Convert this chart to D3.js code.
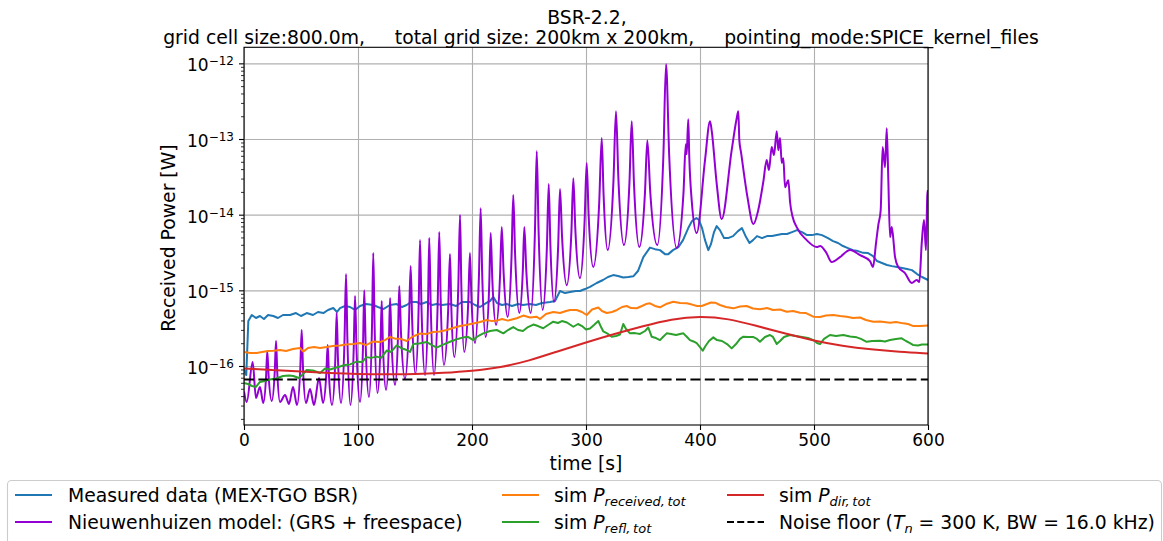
<!DOCTYPE html>
<html><head><meta charset="utf-8">
<script src="https://cdn.jsdelivr.net/npm/d3@7"></script>
<style>
body{margin:0;background:#fff;}
svg{display:block;font-family:"DejaVu Sans",sans-serif;}
</style></head><body>
<svg id="chart" width="1163" height="541"></svg>
<script>
// ---- data ----
const xTicks = [0, 100, 200, 300, 400, 500, 600];
const yDecades = [-16, -15, -14, -13, -12];
const noiseTemp = 300;      // K
const noiseBW = 16.0e3;     // Hz
const boltzmann = 1.380649e-23;

// measured received power (MEX-TGO BSR), [time s, power W]
const measured = [
 [0,8.85e-17],[2.0,7.6e-17],[3.8,3.93e-16],[6.8,4.72e-16],[10.5,4.31e-16],[14.0,4.58e-16],[17.5,4.18e-16],
 [21.1,4.72e-16],[25.7,4.58e-16],[29.8,4.31e-16],[34.2,4.72e-16],[40.4,4.72e-16],[45.6,5.01e-16],[50.0,4.58e-16],
 [55.0,5.01e-16],[60.5,4.72e-16],[64.9,5.17e-16],[69.6,5.01e-16],[73.7,5.5e-16],[78.3,5.83e-16],[81.6,5.17e-16],
 [84.2,5.83e-16],[88.6,6.21e-16],[93.0,6.02e-16],[97.4,5.5e-16],[101.8,6.21e-16],[107.0,6.59e-16],[113.4,6.4e-16],
 [117.5,6.02e-16],[122.2,5.66e-16],[128.1,6.4e-16],[133.9,6.59e-16],[138.6,6.02e-16],[142.7,6.4e-16],[146.5,7.01e-16],
 [151.5,7.01e-16],[155.3,6.59e-16],[160.3,7.01e-16],[164.9,6.4e-16],[169.0,6.59e-16],[173.7,6.4e-16],[180.7,6.59e-16],
 [186.0,6.21e-16],[191.2,7.01e-16],[198.2,7.01e-16],[202.6,6.4e-16],[207.0,6.02e-16],[212.3,6.79e-16],[215.8,7.23e-16],
 [218.7,8.17e-16],[221.9,6.79e-16],[226.3,6.4e-16],[230.4,6.59e-16],[235.1,6.21e-16],[240.4,6.59e-16],[244.7,6.4e-16],
 [250.9,6.59e-16],[256.1,6.4e-16],[261.4,6.79e-16],[268.4,7.01e-16],[272.8,7.23e-16],[277.2,9.8e-16],[281.6,9.2e-16],
 [286.0,9.5e-16],[291.2,9.8e-16],[294.7,9.8e-16],[299.1,1.04e-15],[303.5,1.11e-15],[309.4,1.25e-15],[314.9,1.37e-15],
 [319.3,1.5e-15],[323.9,1.59e-15],[328.1,1.55e-15],[332.7,1.48e-15],[337.1,1.5e-15],[341.5,1.53e-15],[345.6,1.8e-15],
 [350.3,2.75e-15],[356.1,3.67e-15],[360.5,3.5e-15],[364.9,3.4e-15],[369.3,3.01e-15],[372.2,3.01e-15],[376.3,3.4e-15],
 [381.0,3.73e-15],[385.1,4.61e-15],[389.7,6.65e-15],[393.0,8.24e-15],[396.8,9.02e-15],[399.1,8.49e-15],[401.8,6.65e-15],
 [404.4,4.61e-15],[407.3,3.4e-15],[409.6,4.08e-15],[412.3,5.89e-15],[414.6,7.06e-15],[417.5,6.25e-15],[421.1,4.9e-15],
 [424.6,4.9e-15],[429.0,5.21e-15],[433.3,6.07e-15],[436.8,6.65e-15],[440.4,5.06e-15],[443.4,4.22e-15],[446.5,4.61e-15],
 [450.0,5.21e-15],[454.4,4.9e-15],[458.8,5.21e-15],[463.2,5.21e-15],[467.5,5.37e-15],[471.9,5.55e-15],[476.3,5.55e-15],
 [480.7,5.89e-15],[485.1,6.25e-15],[489.5,5.89e-15],[493.9,5.37e-15],[498.2,5.37e-15],[502.6,5.55e-15],[507.0,5.37e-15],
 [512.3,4.9e-15],[516.7,4.48e-15],[521.1,4.22e-15],[525.4,3.85e-15],[529.8,3.62e-15],[534.2,3.4e-15],[538.6,3.3e-15],
 [543.0,3.13e-15],[547.4,3.11e-15],[551.8,2.84e-15],[555.3,2.44e-15],[559.6,2.3e-15],[564.0,2.16e-15],[568.4,2.09e-15],
 [572.8,2.03e-15],[577.2,1.97e-15],[581.6,1.91e-15],[585.9,1.85e-15],[590.4,1.64e-15],[594.7,1.5e-15],[600,1.37e-15]
];

// Nieuwenhuizen model (GRS + freespace), [time s, power W]
const nieuwenhuizen = [
 [0,4.6e-17],[2.4,3.34e-17],[7.6,1.13e-16],[10.5,3.78e-17],[14.0,5.28e-17],[16.9,3.24e-17],
 [19.35,7.15e-17],[20.4,1.58e-16],[21.6,7.38e-17],[24.3,3.45e-17],
 [27.0,8.59e-17],[28.1,2.14e-16],[29.15,8.45e-17],[31.6,3.34e-17],[36.0,4.14e-17],[39.5,3.15e-17],
 [43.0,5.28e-17],[46.5,3.05e-17],[49.4,9.55e-17],[50.6,2.99e-16],[51.7,9.84e-17],[54.4,3.24e-17],
 [57.9,4.97e-17],[61.4,3.05e-17],[65.8,6.94e-17],[69.3,3.24e-17],
 [72.2,7.83e-17],[73.4,1.89e-16],[74.5,7.6e-17],[77.2,3.05e-17],
 [80.1,1.24e-16],[81.3,5.01e-16],[82.4,1.27e-16],[85.1,3.24e-17],
 [88.2,2.31e-16],[89.5,1.64e-15],[90.7,2.24e-16],[93.4,3.05e-17],
 [96.2,1.6e-16],[97.4,8.41e-16],[98.7,1.67e-16],[101.8,3.34e-17],
 [104.4,1.84e-16],[105.5,1.0e-15],[106.7,1.95e-16],[109.6,3.89e-17],
 [112.3,3.43e-16],[113.4,3.11e-15],[114.5,3.7e-16],[117.1,4.39e-17],
 [119.7,1.78e-16],[120.8,7.23e-16],[121.9,1.87e-16],[124.6,4.82e-17],
 [127.1,1.95e-16],[128.1,7.91e-16],[129.4,2.1e-16],[132.5,5.61e-17],
 [135.1,2.53e-16],[136.2,1.14e-15],[137.7,2.77e-16],[141.2,6.73e-17],
 [144.7,3.75e-16],[146.2,2.09e-15],[147.5,4.05e-16],[150.4,7.83e-17],
 [153.2,6.01e-16],[154.4,4.61e-15],[155.7,5.92e-16],[158.8,7.6e-17],
 [161.4,6.11e-16],[162.5,4.91e-15],[163.8,6.11e-16],[166.7,7.6e-17],
 [169.9,6.68e-16],[171.3,5.89e-15],[172.5,7.78e-16],[175.4,1.03e-16],
 [179.1,5.57e-16],[180.7,3.02e-15],[181.8,6.31e-16],[184.5,1.31e-16],
 [188.0,1.14e-15],[189.5,9.9e-15],[190.6,1.23e-15],[193.2,1.53e-16],
 [196.7,6.9e-16],[198.2,3.11e-15],[199.5,7.94e-16],[202.6,2.01e-16],
 [206.1,1.57e-15],[207.6,1.22e-14],[208.9,1.72e-15],[212.0,2.42e-16],
 [215.1,1.17e-15],[216.4,5.71e-15],[217.8,1.41e-15],[221.1,3.48e-16],
 [224.6,1.55e-15],[226.1,6.86e-15],[227.7,1.74e-15],[231.3,4.44e-16],
 [234.7,2.84e-15],[236.2,1.82e-14],[237.8,3.02e-15],[241.5,5.01e-16],
 [244.6,1.85e-15],[245.9,6.86e-15],[247.6,1.85e-15],[251.5,5.01e-16],
 [255.2,5.89e-15],[256.8,6.92e-14],[258.4,6.17e-15],[262.0,5.5e-16],
 [265.7,3.73e-15],[267.3,2.54e-14],[268.7,4.22e-15],[271.9,7.01e-16],
 [275.6,3.91e-15],[277.2,2.18e-14],[279.0,5.06e-15],[283.1,1.17e-15],
 [287.2,5.97e-15],[288.9,3.04e-14],[290.6,6.64e-15],[294.7,1.45e-15],
 [298.8,8.36e-15],[300.6,4.81e-14],[302.3,9.89e-15],[306.4,2.03e-15],
 [311.6,1.45e-14],[313.8,1.03e-13],[315.4,1.87e-14],[319.0,3.4e-15],
 [324.1,2.82e-14],[326.3,2.33e-13],[328.4,3.04e-14],[333.3,3.96e-15],
 [338.1,2.61e-14],[340.1,1.72e-13],[342.1,2.54e-14],[346.8,3.73e-15],
 [351.7,1.91e-14],[353.8,9.66e-14],[356.4,1.95e-14],[362.5,3.96e-15],
 [367.9,6.21e-14],[370.2,9.75e-13],[373.0,5.94e-14],[379.6,3.62e-15],
 [385.5,1.93e-14],[387.5,8.55e-14],[388.3,6.31e-14],[389.7,1.83e-13],[390.6,5.77e-14],[392.7,1.56e-14],
 [397.1,5.71e-15],[404.4,5.26e-14],[408.8,1.72e-13],[410.3,1.27e-13],[414.6,2.62e-14],[419.0,8.75e-15],
 [427.8,7.13e-14],[432.2,1.88e-13],[433.6,2.33e-13],[434.5,9.66e-14],[436.1,6.5e-14],[441.6,1.72e-14],
 [446.8,7.52e-15],[451.1,1.15e-14],[455.5,2.7e-14],[458.5,5.26e-14],[460.5,3.88e-14],[462.9,7.82e-14],
 [464.9,6.12e-14],[467.3,1.27e-13],[468.7,7.13e-14],[470.2,1.03e-13],[471.7,4.81e-14],[473.1,5.58e-14],
 [474.6,2.31e-14],[477.5,2.86e-14],[479.0,1.47e-14],[481.3,9.31e-15],[484.8,6.86e-15],[493.6,4.61e-15],
 [502.4,3.73e-15],[505.3,3.85e-15],[510.5,3.2e-15],[515.5,2.37e-15],[522.8,2.75e-15],[531.6,3.4e-15],
 [540.4,2.92e-15],[549.1,2.44e-15],[551.8,2.03e-15],[554.4,4.21e-15],[556.4,7.28e-15],[558.5,1.15e-14],
 [560.2,7.82e-14],[562.3,4.25e-14],[563.8,1.39e-13],[565.2,2.86e-14],[566.7,5.06e-15],[568.2,6.86e-15],
 [571.1,2.75e-15],[574.0,2.03e-15],[579.8,1.69e-15],[585.7,1.25e-15],[590.1,1.37e-15],[592.4,1.29e-15],
 [594.5,4.21e-15],[596.5,8.49e-15],[598.2,3.4e-15],[599.4,1.82e-14],[600,2.11e-14]
];

// simulated total received power, [time s, power W]
const simReceived = [
 [0,1.53e-16],[5.3,1.49e-16],[11.1,1.49e-16],[15.8,1.53e-16],[21.1,1.58e-16],[25.7,1.59e-16],[31.6,1.63e-16],
 [36.8,1.58e-16],[43.0,1.68e-16],[49.1,1.73e-16],[52.0,1.55e-16],[56.1,1.73e-16],[61.4,1.78e-16],[66.7,1.73e-16],
 [72.5,1.78e-16],[78.1,1.84e-16],[84.2,1.87e-16],[89.5,1.92e-16],[95.9,1.95e-16],[101.8,2.01e-16],[107.0,1.89e-16],
 [113.4,2.11e-16],[119.3,2.07e-16],[123.7,2.2e-16],[128.1,2.42e-16],[132.5,2.3e-16],[136.8,2.3e-16],[142.7,2.14e-16],
 [147.4,2.42e-16],[154.4,2.69e-16],[159.6,2.64e-16],[166.1,2.81e-16],[171.9,2.85e-16],[177.8,2.99e-16],[183.3,3.18e-16],
 [189.5,3.37e-16],[194.7,3.48e-16],[201.1,3.64e-16],[207.0,3.81e-16],[212.9,4.05e-16],[217.5,3.92e-16],[221.7,3.98e-16],
 [226.3,4.18e-16],[231.6,3.98e-16],[239.2,4.27e-16],[245.0,4.64e-16],[250.9,4.37e-16],[256.8,4.48e-16],[259.6,4.18e-16],
 [264.9,4.86e-16],[271.3,5.17e-16],[277.2,5.01e-16],[282.5,5.33e-16],[286.0,5.5e-16],[291.8,5.5e-16],[296.5,5.17e-16],
 [300.6,4.72e-16],[305.3,5.58e-16],[310.8,5.93e-16],[314.0,5.33e-16],[318.2,5.01e-16],[322.8,5.17e-16],[327.2,5.5e-16],
 [331.6,6.02e-16],[335.7,6.21e-16],[339.5,5.83e-16],[344.5,5.8e-16],[349.1,6.21e-16],[352.6,6.59e-16],[356.1,6.73e-16],
 [360.5,6.21e-16],[364.9,5.96e-16],[370.2,6.59e-16],[376.6,7.06e-16],[382.5,6.79e-16],[388.3,6.73e-16],[393.0,6.48e-16],
 [397.4,6.21e-16],[401.5,6.21e-16],[406.1,6.59e-16],[409.6,6.9e-16],[413.2,6.86e-16],[417.5,6.4e-16],[422.8,6.02e-16],
 [429.2,5.78e-16],[435.1,6.11e-16],[440.9,6.21e-16],[446.5,5.75e-16],[452.6,5.61e-16],[458.8,5.83e-16],[464.0,5.5e-16],
 [470.2,5.58e-16],[476.1,5.21e-16],[481.6,5.33e-16],[487.7,5.06e-16],[493.0,5.01e-16],[499.4,4.48e-16],[505.3,4.44e-16],
 [510.5,4.64e-16],[516.9,4.72e-16],[522.8,4.58e-16],[528.7,4.48e-16],[534.2,4.31e-16],[540.4,4.37e-16],[545.6,4.05e-16],
 [552.0,3.85e-16],[557.9,3.87e-16],[566.7,3.73e-16],[571.9,3.81e-16],[578.3,3.66e-16],[582.5,3.59e-16],[587.1,3.37e-16],
 [593.0,3.37e-16],[600,3.42e-16]
];

// simulated total reflected power, [time s, power W]
const simReflected = [
 [0,5.96e-17],[3.5,5.78e-17],[7.0,5.44e-17],[10.5,5.28e-17],[14.0,6.15e-17],[18.4,6.33e-17],[22.8,6.64e-17],
 [28.1,6.84e-17],[34.2,7.38e-17],[39.5,7.5e-17],[43.2,7.38e-17],[48.2,6.94e-17],[51.8,7.83e-17],[55.0,8.85e-17],
 [60.5,8.72e-17],[66.7,8.09e-17],[71.1,9.27e-17],[75.4,8.99e-17],[79.8,9.42e-17],[84.2,9.84e-17],[88.6,1.03e-16],
 [93.0,1.05e-16],[98.9,1.14e-16],[103.5,1.13e-16],[107.6,1.31e-16],[111.4,1.28e-16],[116.4,1.33e-16],[120.2,1.28e-16],
 [125.2,1.6e-16],[128.9,1.53e-16],[133.9,1.87e-16],[137.7,1.73e-16],[142.7,1.63e-16],[145.6,1.53e-16],[148.5,1.95e-16],
 [153.5,1.98e-16],[160.3,2.07e-16],[164.9,1.89e-16],[169.0,1.75e-16],[173.7,1.89e-16],[180.7,2.09e-16],[186.0,2.24e-16],
 [192.4,2.39e-16],[196.5,2.42e-16],[201.1,2.2e-16],[205.3,2.49e-16],[209.9,2.7e-16],[215.8,2.9e-16],[221.7,2.99e-16],
 [227.5,2.7e-16],[231.6,2.99e-16],[236.2,3.27e-16],[240.4,2.99e-16],[244.7,2.9e-16],[249.1,3.27e-16],[253.8,3.53e-16],
 [257.9,3.37e-16],[262.5,3.15e-16],[266.7,3.48e-16],[271.3,3.85e-16],[275.4,3.7e-16],[278.9,3.93e-16],[283.3,3.76e-16],
 [288.9,3.3e-16],[293.0,3.59e-16],[296.5,3.37e-16],[300.0,3.03e-16],[303.5,3.13e-16],[307.0,3.48e-16],[310.8,3.93e-16],
 [313.2,3.27e-16],[315.2,2.86e-16],[319.3,2.65e-16],[322.5,2.44e-16],[326.3,2.49e-16],[329.8,2.61e-16],[332.7,3.59e-16],
 [335.1,3.08e-16],[338.6,2.7e-16],[343.0,2.72e-16],[347.4,2.65e-16],[351.8,2.9e-16],[354.6,3.23e-16],[357.6,2.44e-16],
 [361.4,2.34e-16],[364.9,2.2e-16],[367.5,2.42e-16],[370.8,2.7e-16],[374.6,2.65e-16],[379.0,2.57e-16],[382.5,2.65e-16],
 [385.4,2.7e-16],[388.6,2.42e-16],[391.2,2.2e-16],[394.3,2.11e-16],[397.1,2.0e-16],[400.0,1.78e-16],[402.4,1.59e-16],
 [404.8,1.84e-16],[407.9,2.14e-16],[411.7,2.39e-16],[414.9,2.2e-16],[419.3,2.14e-16],[423.7,1.95e-16],[427.8,1.71e-16],
 [431.6,1.95e-16],[435.1,2.28e-16],[438.0,2.44e-16],[442.1,2.42e-16],[446.5,2.42e-16],[450.0,2.28e-16],[452.6,2.09e-16],
 [457.0,2.42e-16],[461.4,2.57e-16],[464.0,2.42e-16],[467.3,1.95e-16],[470.2,2.14e-16],[473.7,2.42e-16],[479.0,2.57e-16],
 [484.2,2.49e-16],[489.5,2.42e-16],[494.7,2.34e-16],[499.4,2.2e-16],[502.6,2.01e-16],[505.3,1.95e-16],[508.8,2.28e-16],
 [514.0,2.57e-16],[519.3,2.49e-16],[525.7,2.57e-16],[531.6,2.45e-16],[537.5,2.39e-16],[541.2,2.28e-16],[546.2,2.09e-16],
 [550.9,2.14e-16],[557.9,2.16e-16],[562.3,2.11e-16],[566.7,2.2e-16],[571.9,2.28e-16],[576.9,2.32e-16],[580.7,2.14e-16],
 [584.2,2.01e-16],[587.1,1.89e-16],[591.2,1.87e-16],[594.7,1.92e-16],[600,1.92e-16]
];

// simulated total direct-path power, [time s, power W]
const simDirect = [
 [0,9.27e-17],[25,8.85e-17],[50,8.45e-17],[75,8.09e-17],[100,7.83e-17],[125,7.77e-17],[150,7.77e-17],
 [175,8.09e-17],[200,8.59e-17],[225,9.55e-17],[250,1.17e-16],[275,1.56e-16],[300,2.05e-16],[325,2.66e-16],
 [350,3.37e-16],[375,4.18e-16],[400,4.58e-16],[425,4.24e-16],[450,3.37e-16],[475,2.69e-16],[500,2.14e-16],
 [525,1.84e-16],[550,1.65e-16],[575,1.53e-16],[600,1.46e-16]
];

// ---- layout ----
const plotLeft = 244, plotRight = 928, plotTop = 47.3, plotBottom = 425;
const tickFs = 17;     // tick labels
const fs = 18.8;       // title, axis labels, legend

const svg = d3.select("#chart");
const x = d3.scaleLinear().domain([0, 600]).range([plotLeft, plotRight]);
const y = d3.scaleLog().domain([1.66e-17, 1.63e-12]).range([plotBottom, plotTop]);

svg.append("defs").append("clipPath").attr("id", "plotClip")
  .append("rect").attr("x", plotLeft).attr("y", plotTop)
  .attr("width", plotRight - plotLeft).attr("height", plotBottom - plotTop);

const decadeVals = yDecades.map(e => +("1e" + e));
const minorVals = [];
for (let e = -17; e <= -12; e++) for (let k = 2; k <= 9; k++) {
  const v = +(k + "e" + e);
  if (v >= y.domain()[0] && v <= y.domain()[1]) minorVals.push(v);
}

// grid
svg.append("g").attr("transform", `translate(0,${plotBottom})`)
  .call(d3.axisBottom(x).tickValues(xTicks).tickSize(-(plotBottom - plotTop)).tickFormat(""))
  .call(g => g.select(".domain").remove())
  .selectAll("line").attr("stroke", "#b0b0b0").attr("stroke-width", 1.1);
svg.append("g").attr("transform", `translate(${plotLeft},0)`)
  .call(d3.axisLeft(y).tickValues(decadeVals).tickSize(-(plotRight - plotLeft)).tickFormat(""))
  .call(g => g.select(".domain").remove())
  .selectAll("line").attr("stroke", "#b0b0b0").attr("stroke-width", 1.1);

// series
const line = d3.line().x(d => x(d[0])).y(d => y(d[1]));
const plot = svg.append("g").attr("clip-path", "url(#plotClip)");
const series = [
  {data: measured, color: "#1f77b4", curve: d3.curveLinear, w: 2},
  {data: nieuwenhuizen, color: "#9400d3", curve: d3.curveMonotoneX, w: 2},
  {data: simReceived, color: "#ff7f0e", curve: d3.curveLinear, w: 2},
  {data: simReflected, color: "#2ca02c", curve: d3.curveLinear, w: 2},
  {data: simDirect, color: "#d62728", curve: d3.curveBasis, w: 2}
];
series.forEach(s => {
  plot.append("path").datum(s.data)
    .attr("fill", "none").attr("stroke", s.color).attr("stroke-width", s.w)
    .attr("stroke-linejoin", "round")
    .attr("d", line.curve(s.curve));
});
const noiseFloor = boltzmann * noiseTemp * noiseBW;
plot.append("path").datum([[0, noiseFloor], [600, noiseFloor]])
  .attr("fill", "none").attr("stroke", "#000").attr("stroke-width", 2.2)
  .attr("stroke-dasharray", "10,4.4")
  .attr("d", line.curve(d3.curveLinear));

// axes
const xAxis = svg.append("g").attr("transform", `translate(0,${plotBottom})`)
  .call(d3.axisBottom(x).tickValues(xTicks).tickSize(5).tickPadding(4));
xAxis.select(".domain").remove();
xAxis.selectAll("line").attr("stroke", "#000").attr("stroke-width", 1.1);
xAxis.selectAll("text").attr("font-size", tickFs).attr("font-family", "DejaVu Sans").attr("fill", "#000");

const yMinor = svg.append("g").attr("transform", `translate(${plotLeft},0)`)
  .call(d3.axisLeft(y).tickValues(minorVals).tickSize(3).tickFormat(""));
yMinor.select(".domain").remove();
yMinor.selectAll("line").attr("stroke", "#000").attr("stroke-width", 0.8);

const yAxis = svg.append("g").attr("transform", `translate(${plotLeft},0)`)
  .call(d3.axisLeft(y).tickValues(decadeVals).tickSize(5).tickPadding(5));
yAxis.select(".domain").remove();
yAxis.selectAll("line").attr("stroke", "#000").attr("stroke-width", 1.1);
yAxis.selectAll("text").each(function(d) {
  const t = d3.select(this);
  const e = Math.round(Math.log10(d));
  t.text(null).attr("dy", null).attr("y", 7.4).attr("x", -10)
    .attr("font-family", "DejaVu Sans").attr("fill", "#000").attr("text-anchor", "end");
  t.append("tspan").attr("font-size", tickFs).text("10");
  t.append("tspan").attr("font-size", 12).attr("dy", -6).text("\u2212" + Math.abs(e));
});

// frame
svg.append("rect").attr("x", plotLeft).attr("y", plotTop)
  .attr("width", plotRight - plotLeft).attr("height", plotBottom - plotTop)
  .attr("fill", "none").attr("stroke", "#000").attr("stroke-width", 1.1);

// labels
svg.append("text").attr("x", (plotLeft + plotRight) / 2).attr("y", 470).attr("text-anchor", "middle")
  .attr("font-size", fs).text("time [s]");
svg.append("text").attr("transform", `translate(168,${(plotTop + plotBottom) / 2 + 2}) rotate(-90)`)
  .attr("text-anchor", "middle").attr("dominant-baseline", "central")
  .attr("font-size", fs).text("Received Power [W]");

svg.append("text").attr("x", 587).attr("y", 24).attr("text-anchor", "middle")
  .attr("font-size", fs).text("BSR-2.2,");
svg.append("text").attr("x", 601).attr("y", 44).attr("text-anchor", "middle")
  .attr("font-size", fs).attr("xml:space", "preserve").style("white-space", "pre")
  .text("grid cell size:800.0m,     total grid size: 200km x 200km,     pointing_mode:SPICE_kernel_files");

// legend
const legend = svg.append("g");
legend.append("rect").attr("x", 7.5).attr("y", 480.5).attr("width", 1154).attr("height", 90)
  .attr("rx", 4).attr("fill", "#fff").attr("fill-opacity", 0.8).attr("stroke", "#cccccc").attr("stroke-width", 1.1);

const legendItems = [
  {col: 0, row: 0, color: "#1f77b4", label: [["Measured data (MEX-TGO BSR)"]]},
  {col: 0, row: 1, color: "#9400d3", label: [["Nieuwenhuizen model: (GRS + freespace)"]]},
  {col: 1, row: 0, color: "#ff7f0e", label: [["sim "], ["P", "i"], ["received,\u2009tot", "sub"]]},
  {col: 1, row: 1, color: "#2ca02c", label: [["sim "], ["P", "i"], ["refl,\u2009tot", "sub"]]},
  {col: 2, row: 0, color: "#d62728", label: [["sim "], ["P", "i"], ["dir,\u2009tot", "sub"]]},
  {col: 2, row: 1, color: "#000", dash: true,
   label: [["Noise floor ("], ["T", "i"], ["n", "sub"], [" = 300 K, BW = 16.0 kHz)", "up"]]}
];
const colLineX = [[15, 52], [502, 539], [727, 764]];
const colTextX = [68, 554, 779];
const rowY = [495, 522];
legendItems.forEach(it => {
  const ly = rowY[it.row];
  legend.append("line").attr("x1", colLineX[it.col][0]).attr("x2", colLineX[it.col][1])
    .attr("y1", ly).attr("y2", ly).attr("stroke", it.color)
    .attr("stroke-width", it.dash ? 2.2 : 2)
    .attr("stroke-dasharray", it.dash ? "7,3.2" : null);
  const t = legend.append("text").attr("x", colTextX[it.col]).attr("y", ly + 6.5)
    .attr("font-size", fs).attr("xml:space", "preserve").style("white-space", "pre");
  it.label.forEach(([s, kind]) => {
    const sp = t.append("tspan").text(s);
    if (kind === "i") sp.attr("font-style", "italic");
    if (kind === "sub") sp.attr("font-style", "italic").attr("font-size", 13).attr("dy", 4.5);
    if (kind === "up") sp.attr("dy", -4.5);
  });
});
</script>
</body></html>
